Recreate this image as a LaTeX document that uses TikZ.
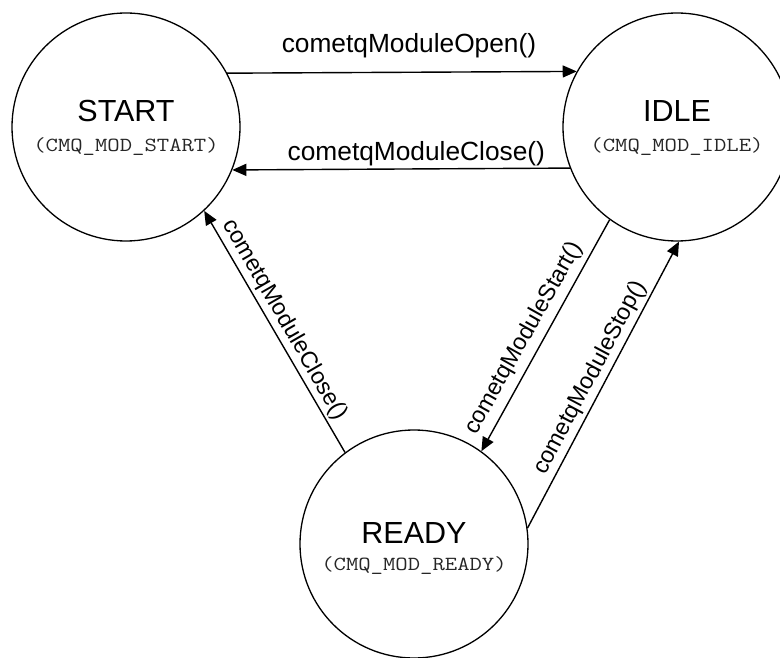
\documentclass[tikz,border=0pt]{standalone}
\usepackage{fontspec}
\setmainfont{Liberation Sans}
\newfontfamily\cmqfont[FakeStretch=1.2]{Latin Modern Mono}
\usetikzlibrary{arrows.meta}
\tikzset{
  state/.style={draw, circle, line width=1.3pt, minimum size=228pt, inner sep=0pt},
  title/.style={font=\fontsize{30.5}{32}\selectfont, anchor=base, inner sep=0pt},
  code/.style={font=\fontsize{20}{22}\selectfont\cmqfont, anchor=base, inner sep=0pt, text=black!85},
  lbl/.style={font=\fontsize{26.3}{28}\selectfont, inner sep=2pt},
  dlbl/.style={font=\fontsize{23.2}{25}\selectfont, inner sep=3pt, anchor=south},
  arr/.style={line width=1.4pt, -{Triangle[length=14pt,width=12pt]}}
}
\begin{document}
\begin{tikzpicture}[x=1pt, y=-1pt]
\useasboundingbox (0,0) rectangle (780,658);
\clip (0,0) rectangle (780,658);
\node[state] (start) at (126,127) {};
\node[state] (idle) at (677,127) {};
\node[state] (ready) at (414,544) {};
\node[title] (starttitle) at (126,122) {START};
\node[code] (startcode) at (126,152) {(CMQ\_MOD\_START)};
\node[title] (idletitle) at (677,122) {IDLE};
\node[code] (idlecode) at (677,152) {(CMQ\_MOD\_IDLE)};
\node[title] (readytitle) at (414,543) {READY};
\node[code] (readycode) at (414,570) {(CMQ\_MOD\_READY)};
\draw[arr] (start.28.8) -- node[lbl, pos=0.52, anchor=south, yshift=12pt] (l1) {cometqModuleOpen()} (idle.151.2);
\draw[arr] (idle.201.6) -- node[lbl, pos=0.455, anchor=south] (l2) {cometqModuleClose()} (start.338.4);
\draw[arr] (ready.127) -- node[dlbl, pos=0.52, rotate=-60] (l3) {cometqModuleClose()} (start.313.6);
\draw[arr] (idle.234.5) -- node[dlbl, pos=0.55, rotate=60.7, inner sep=6pt] (l4) {cometqModuleStart()} (ready.54);
\draw[arr] (ready.8) -- node[dlbl, pos=0.5, rotate=62] (l5) {cometqModuleStop()} (idle.271.5);
\end{tikzpicture}
\end{document}
